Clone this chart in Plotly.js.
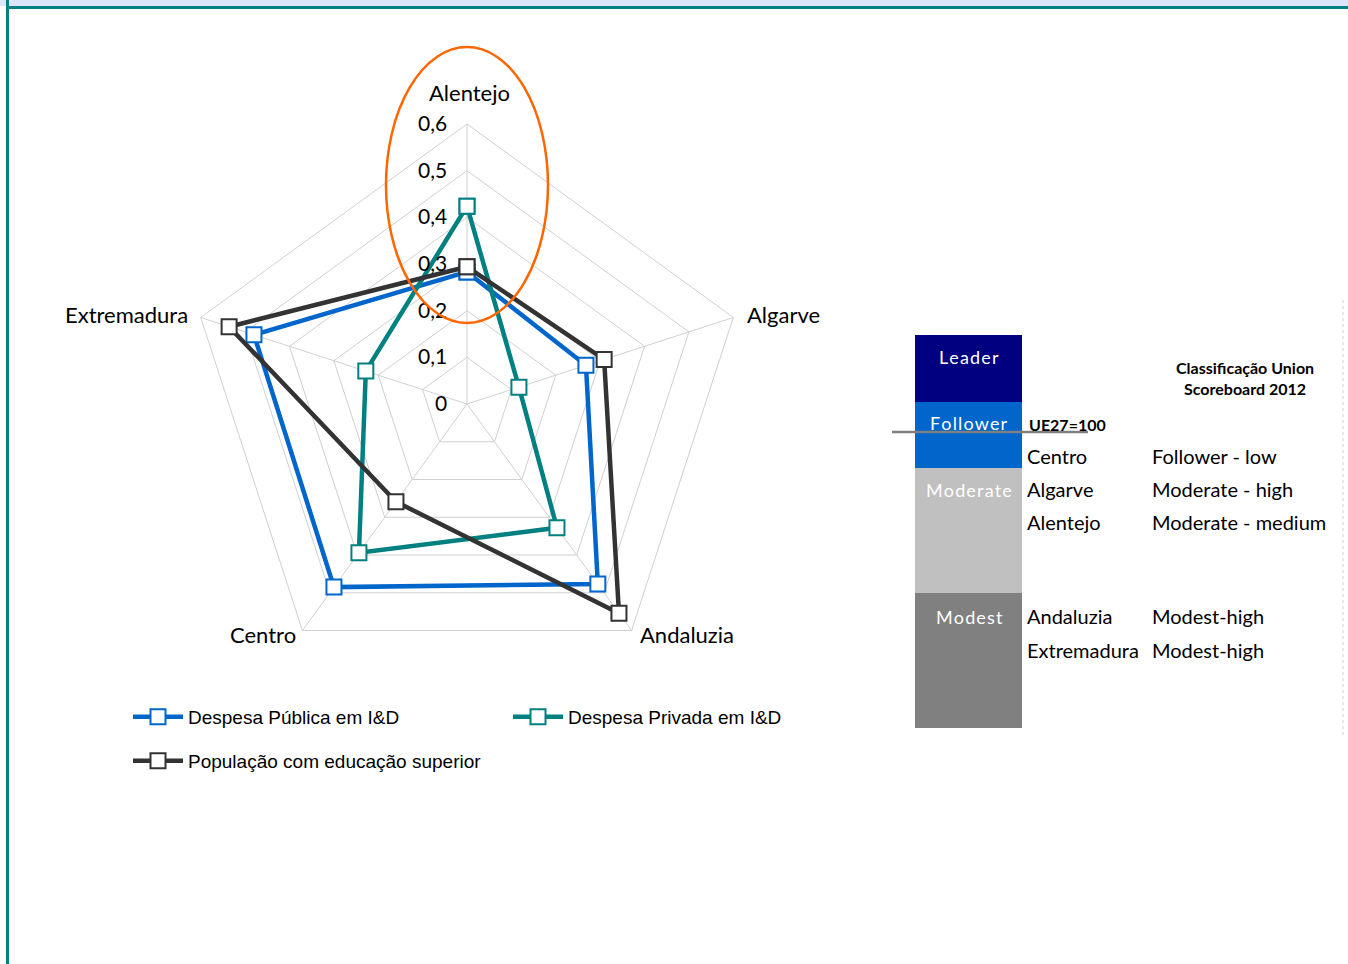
<!DOCTYPE html>
<html>
<head>
<meta charset="utf-8">
<script src="https://cdn.plot.ly/plotly-3.0.1.min.js"></script>
<style>
  html, body { margin: 0; padding: 0; background: #fff; }
  #chart { width: 1348px; height: 964px; }
</style>
</head>
<body>
<div id="chart"></div>
<script>
// regions (clockwise from the top)
const regioes = ['Alentejo', 'Algarve', 'Andaluzia', 'Centro', 'Extremadura'];
const despesaPublica = [0.283, 0.268, 0.477, 0.485, 0.480];
const despesaPrivada = [0.424, 0.117, 0.328, 0.394, 0.228];
const popSuperior = [0.294, 0.309, 0.554, 0.259, 0.536];

const radialTicks = [0, 0.1, 0.2, 0.3, 0.4, 0.5, 0.6];
const radialLabels = ['0', '0,1', '0,2', '0,3', '0,4', '0,5', '0,6'];

// classification panel
const niveis = ['Leader', 'Follower', 'Moderate', 'Modest'];
const niveisCores = ['#000080', '#0066CC', '#C0C0C0', '#808080'];
const classRegioes = ['Centro', 'Algarve', 'Alentejo', 'Andaluzia', 'Extremadura'];
const classValores = ['Follower - low', 'Moderate - high', 'Moderate - medium', 'Modest-high', 'Modest-high'];

const W = 1348, H = 964;
const px = x => x / W;
const py = y => 1 - y / H;

function closed(arr) { return arr.concat([arr[0]]); }

function serie(nome, valores, cor, legend) {
    return {
        type: 'scatterpolar',
        mode: 'lines+markers',
        name: nome,
        r: closed(valores),
        theta: closed(regioes),
        line: { color: cor, width: 4.5 },
        marker: { symbol: 'square', size: 15, color: '#ffffff', line: { color: cor, width: 2 } },
        legend: legend,
        hoverinfo: 'name+r+theta'
    };
}

const data = [
    serie('Despesa Pública em I&D', despesaPublica, '#0066CC', 'legend'),
    serie('Despesa Privada em I&D', despesaPrivada, '#008080', 'legend'),
    serie('População com educação superior', popSuperior, '#333333', 'legend2')
];

// centre (467,404), radius 280 px
const cx = 467, cy = 404, R = 280;

const shapes = [
    // page frame
    { type: 'rect', xref: 'paper', yref: 'paper', x0: 0, x1: 1, y0: py(6), y1: 1, fillcolor: '#DDE6F8', line: { width: 0 }, layer: 'below' },
    { type: 'line', xref: 'paper', yref: 'paper', x0: px(7), x1: 1, y0: py(7.5), y1: py(7.5), line: { color: '#008080', width: 3 } },
    { type: 'line', xref: 'paper', yref: 'paper', x0: px(7.5), x1: px(7.5), y0: 0, y1: 1, line: { color: '#008080', width: 3 } },
    // highlight around Alentejo
    { type: 'circle', xref: 'paper', yref: 'paper', x0: px(386), x1: px(548), y0: py(47), y1: py(323), line: { color: '#FF6600', width: 2.5 } },
    // UE27 line
    { type: 'line', xref: 'paper', yref: 'paper', x0: px(892), x1: px(1088), y0: py(432), y1: py(432), line: { color: '#808080', width: 2.5 }, layer: 'above' },
    // faint dotted edge on the right
    { type: 'line', xref: 'paper', yref: 'paper', x0: px(1343), x1: px(1343), y0: py(300), y1: py(735), line: { color: '#D0D0D0', width: 1, dash: 'dot' } }
];

const blocos = [335, 402, 468, 593, 728];
niveis.forEach((n, i) => {
    shapes.push({
        type: 'rect', xref: 'paper', yref: 'paper',
        x0: px(915), x1: px(1022), y0: py(blocos[i + 1]), y1: py(blocos[i]),
        fillcolor: niveisCores[i], line: { width: 0 }, layer: 'below'
    });
});

const fonteTab = 'Lato, "Open Sans", sans-serif';
const annotations = [];

// category labels around the pentagon
const rotulosPos = [
    { x: 469, y: 92, a: 'center' },
    { x: 745, y: 315, a: 'left' },
    { x: 638, y: 634, a: 'left' },
    { x: 298, y: 634, a: 'right' },
    { x: 190, y: 315, a: 'right' }
];
regioes.forEach((r, i) => {
    annotations.push({
        xref: 'paper', yref: 'paper', x: px(rotulosPos[i].x), y: py(rotulosPos[i].y),
        text: r, showarrow: false, xanchor: rotulosPos[i].a, yanchor: 'middle',
        font: { family: fonteTab, size: 22, color: '#000' }
    });
});

const niveisY = [357, 423, 490, 617];
niveis.forEach((n, i) => {
    annotations.push({
        xref: 'paper', yref: 'paper', x: px(969), y: py(niveisY[i]),
        text: n.split('').join('\u200A'), showarrow: false, xanchor: 'center', yanchor: 'middle',
        font: { family: fonteTab, size: 18, color: '#ffffff' }
    });
});
annotations.push({
    xref: 'paper', yref: 'paper', x: px(1027), y: py(424), text: '<b>UE27=100</b>',
    showarrow: false, xanchor: 'left', yanchor: 'middle',
    font: { family: fonteTab, size: 16, color: '#000' }
});
annotations.push({
    xref: 'paper', yref: 'paper', x: px(1245), y: py(378), text: '<b>Classificação Union</b><br><b>Scoreboard 2012</b>',
    showarrow: false, xanchor: 'center', yanchor: 'middle', align: 'center',
    font: { family: fonteTab, size: 16, color: '#000' }
});
const linhasY = [456, 489, 522, 616, 650];
classRegioes.forEach((r, i) => {
    annotations.push({
        xref: 'paper', yref: 'paper', x: px(1025), y: py(linhasY[i]), text: r,
        showarrow: false, xanchor: 'left', yanchor: 'middle',
        font: { family: fonteTab, size: 20, color: '#000' }
    });
    annotations.push({
        xref: 'paper', yref: 'paper', x: px(1150), y: py(linhasY[i]), text: classValores[i],
        showarrow: false, xanchor: 'left', yanchor: 'middle',
        font: { family: fonteTab, size: 20, color: '#000' }
    });
});

const layout = {
    width: W, height: H,
    margin: { l: 0, r: 0, t: 0, b: 0 },
    paper_bgcolor: '#ffffff',
    separators: ', ',
    font: { family: fonteTab, color: '#000' },
    polar: {
        domain: { x: [px(cx - R), px(cx + R)], y: [py(cy + R), py(cy - R)] },
        gridshape: 'linear',
        bgcolor: '#ffffff',
        angularaxis: {
            direction: 'clockwise', rotation: 90,
            categoryorder: 'array', categoryarray: regioes,
            showline: true, linecolor: '#D0D0D0', linewidth: 1,
            gridcolor: '#D0D0D0', ticks: '', showticklabels: false
        },
        radialaxis: {
            range: [0, 0.6], angle: 90, side: 'counterclockwise', tickangle: 90,
            tickvals: radialTicks,
            // trailing spaces push the labels off the spoke
            ticktext: radialLabels.map(t => t + '\u00A0\u00A0\u00A0'),
            showline: false, ticks: '', gridcolor: '#D0D0D0',
            tickfont: { family: fonteTab, size: 21, color: '#000' }
        }
    },
    showlegend: true,
    legend: {
        orientation: 'h', x: px(128), y: py(698), xanchor: 'left', yanchor: 'top',
        entrywidth: 315, entrywidthmode: 'pixels', itemwidth: 50,
        font: { family: '"Liberation Sans", Arial, sans-serif', size: 19, color: '#000' },
        bgcolor: 'rgba(0,0,0,0)'
    },
    legend2: {
        orientation: 'h', x: px(128), y: py(742), xanchor: 'left', yanchor: 'top',
        itemwidth: 50,
        font: { family: '"Liberation Sans", Arial, sans-serif', size: 19, color: '#000' },
        bgcolor: 'rgba(0,0,0,0)'
    },
    shapes: shapes,
    annotations: annotations
};

Plotly.newPlot('chart', data, layout, { displayModeBar: false, responsive: false });
</script>
</body>
</html>
